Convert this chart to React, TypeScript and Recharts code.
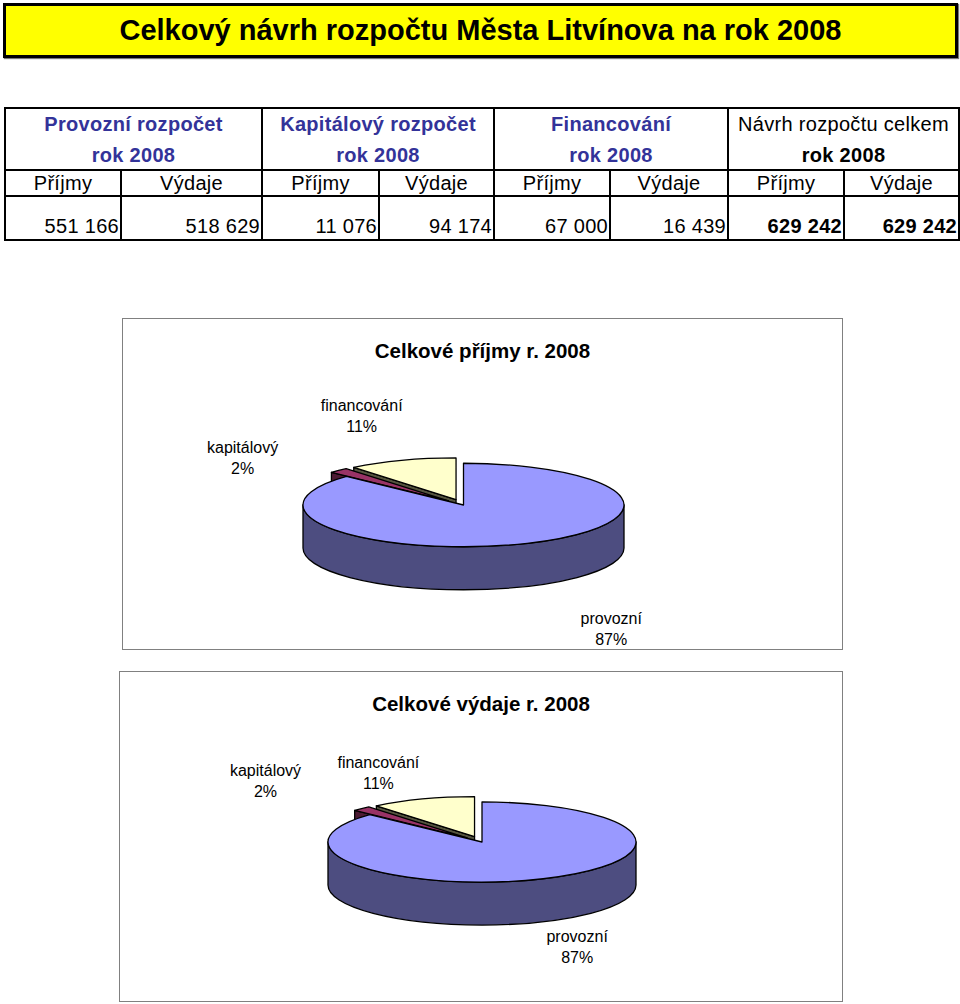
// Budget summary page: yellow heading, the 2008 budget table and two 3D-look pies
// (Recharts computes the slice angles, the label renderer draws the tilted faces).
import { Pie, PieChart } from "recharts";

const FONT = "'Liberation Sans', Arial, Helvetica, sans-serif";

const PAGE_TITLE = "Celkový návrh rozpočtu Města Litvínova na rok 2008";
const BUDGET_GROUPS = ["Provozní rozpočet", "Kapitálový rozpočet", "Financování", "Návrh rozpočtu celkem"];
const YEAR_LABEL = "rok 2008";
const SUB_HEADERS = ["Příjmy", "Výdaje"];
const INCOME = [551166, 11076, 67000, 629242];
const EXPENSES = [518629, 94174, 16439, 629242];

// slices listed from 12 o'clock going counter-clockwise
const SLICE_NAMES = ["financování", "kapitálový", "provozní"];
const INCOME_SHARES = [11, 2, 87];
// the expenses chart in the source shows the same split as the income one
const EXPENSE_SHARES = [11, 2, 87];
const EXPLODED_SLICES = ["financování", "kapitálový"];

const TOP_COLORS = ["#FFFFCC", "#993366", "#9999FF"];
const SIDE_COLORS = ["#55553F", "#4D1A33", "#4D4D80"];

const TILT = 0.26;
const DEPTH = 43;
const EXPLODE = 22;
const RAD = Math.PI / 180;

const fmt = (n: number) => String(n).replace(/\B(?=(\d{3})+(?!\d))/g, " ");

function Slice3D(p: any) {
  const { cx, cy, outerRadius: R, startAngle, endAngle, percent, payload, labelOffsets } = p;
  const name: string = payload?.name ?? p.name;
  const i = SLICE_NAMES.indexOf(name);
  const a0 = Math.min(startAngle, endAngle);
  const a1 = Math.max(startAngle, endAngle);
  const m = (a0 + a1) / 2;
  const ex = EXPLODED_SLICES.includes(name) ? EXPLODE : 0;
  const X = cx + ex * Math.cos(m * RAD);
  const Y = cy - ex * TILT * Math.sin(m * RAD);
  const ry = R * TILT;
  const px = (a: number) => X + R * Math.cos(a * RAD);
  const py = (a: number, dy = 0) => Y - ry * Math.sin(a * RAD) + dy;
  const pt = (a: number, dy = 0) => `${px(a)},${py(a, dy)}`;

  const walls: string[] = [];
  for (let k = -1; k <= 2; k++) {
    const s = Math.max(a0, 180 + 360 * k);
    const e = Math.min(a1, 360 + 360 * k);
    if (e > s) {
      walls.push(`M${pt(s)} A${R},${ry} 0 0 0 ${pt(e)} L${pt(e, DEPTH)} A${R},${ry} 0 0 1 ${pt(s, DEPTH)} Z`);
    }
  }
  const cut = (a: number) => `M${X},${Y} L${pt(a)} L${pt(a, DEPTH)} L${X},${Y + DEPTH} Z`;
  if (Math.cos(a1 * RAD) < -1e-6) walls.push(cut(a1));
  if (Math.cos(a0 * RAD) > 1e-6) walls.push(cut(a0));

  const large = a1 - a0 > 180 ? 1 : 0;
  const top = `M${X},${Y} L${pt(a0)} A${R},${ry} 0 ${large} 0 ${pt(a1)} Z`;

  // label sits off the rim point of the slice's middle angle
  const front = Math.sin(m * RAD) < 0;
  const [dx, dy] = labelOffsets[i];
  const lx = px(m) + dx;
  const ly = py(m, front ? DEPTH : 0) + dy;

  return (
    <g>
      {walls.map((d, j) => (
        <path key={j} d={d} fill={SIDE_COLORS[i]} stroke="#000" strokeWidth={1.3} strokeLinejoin="round" />
      ))}
      <path d={top} fill={TOP_COLORS[i]} stroke="#000" strokeWidth={1.3} strokeLinejoin="round" />
      <text x={lx} y={ly} textAnchor="middle" fontFamily={FONT} fontSize={16} fill="#000">
        <tspan x={lx} dy={-4}>{name}</tspan>
        <tspan x={lx} dy={21}>{`${Math.round(percent * 100)}%`}</tspan>
      </text>
    </g>
  );
}

interface Pie3DProps {
  title: string;
  shares: number[];
  left: number;
  top: number;
  width: number;
  height: number;
  cx: number;
  cy: number;
  radius: number;
  labelOffsets: number[][];
}

function Pie3D({ title, shares, left, top, width, height, cx, cy, radius, labelOffsets }: Pie3DProps) {
  const data = SLICE_NAMES.map((name, i) => ({ name, value: shares[i] }));
  return (
    <div style={{ position: "absolute", left, top, width, height, border: "1px solid #808080", boxSizing: "border-box", background: "#fff" }}>
      <PieChart width={width - 2} height={height - 2} margin={{ top: 0, right: 0, bottom: 0, left: 0 }}>
        <Pie
          data={data}
          dataKey="value"
          nameKey="name"
          cx={cx}
          cy={cy}
          outerRadius={radius}
          startAngle={90}
          endAngle={450}
          fill="none"
          stroke="none"
          isAnimationActive={false}
          labelLine={false}
          label={(p: any) => <Slice3D {...p} labelOffsets={labelOffsets} />}
        />
      </PieChart>
      <div style={{ position: "absolute", left: 0, right: 0, top: 21, lineHeight: "22px", textAlign: "center", fontFamily: FONT, fontWeight: "bold", fontSize: 20.5 }}>
        {title}
      </div>
    </div>
  );
}

const CELL = { border: "2px solid #000", padding: 0 } as const;

export default function App() {
  return (
    <div style={{ position: "absolute", left: 0, top: 0, width: 960, height: 1004, overflow: "hidden", background: "#fff", fontFamily: FONT, color: "#000" }}>
      <div
        style={{
          position: "absolute", left: 3, top: 3, width: 955, height: 55, boxSizing: "border-box",
          border: "3px solid #000", background: "#FFFF00", boxShadow: "1px 1px 1px #777",
          display: "flex", alignItems: "center", justifyContent: "center", fontWeight: "bold", fontSize: 29
        }}
      >
        {PAGE_TITLE}
      </div>

      <table style={{ position: "absolute", left: 4, top: 107, width: 954, borderCollapse: "collapse", tableLayout: "fixed", fontSize: 20, letterSpacing: 0.3 }}>
        <colgroup>
          {[116, 141, 117, 115, 116, 118, 116, 115].map((w, i) => (
            <col key={i} style={{ width: w }} />
          ))}
        </colgroup>
        <tbody>
          <tr style={{ height: 61 }}>
            {BUDGET_GROUPS.map((g, i) => {
              const total = i === BUDGET_GROUPS.length - 1;
              const color = total ? "#000" : "#333399";
              return (
                <td key={g} colSpan={2} style={{ ...CELL, textAlign: "center", color, verticalAlign: "top" }}>
                  <div style={{ height: 30, lineHeight: "30px", fontWeight: total ? "normal" : "bold" }}>{g}</div>
                  <div style={{ height: 30, lineHeight: "32px", fontWeight: "bold" }}>{YEAR_LABEL}</div>
                </td>
              );
            })}
          </tr>
          <tr style={{ height: 26 }}>
            {BUDGET_GROUPS.map((g) =>
              SUB_HEADERS.map((s) => (
                <td key={g + s} style={{ ...CELL, textAlign: "center", lineHeight: "22px" }}>{s}</td>
              ))
            )}
          </tr>
          <tr style={{ height: 44 }}>
            {BUDGET_GROUPS.map((g, i) =>
              [INCOME[i], EXPENSES[i]].map((v, j) => (
                <td
                  key={g + j}
                  style={{ ...CELL, textAlign: "right", verticalAlign: "bottom", paddingRight: 1, paddingBottom: 2, lineHeight: "22px", fontWeight: i === BUDGET_GROUPS.length - 1 ? "bold" : "normal" }}
                >
                  {fmt(v)}
                </td>
              ))
            )}
          </tr>
        </tbody>
      </table>

      <Pie3D
        title="Celkové příjmy r. 2008"
        shares={INCOME_SHARES}
        left={122}
        top={318}
        width={721}
        height={332}
        cx={340.5}
        cy={186}
        radius={160.5}
        labelOffsets={[[-40, -45], [-96, -13], [84, 42]]}
      />
      <Pie3D
        title="Celkové výdaje r. 2008"
        shares={EXPENSE_SHARES}
        left={119}
        top={671}
        width={724}
        height={331}
        cx={362}
        cy={170}
        radius={154}
        labelOffsets={[[-44, -27], [-96, -29], [34, 24]]}
      />
    </div>
  );
}
